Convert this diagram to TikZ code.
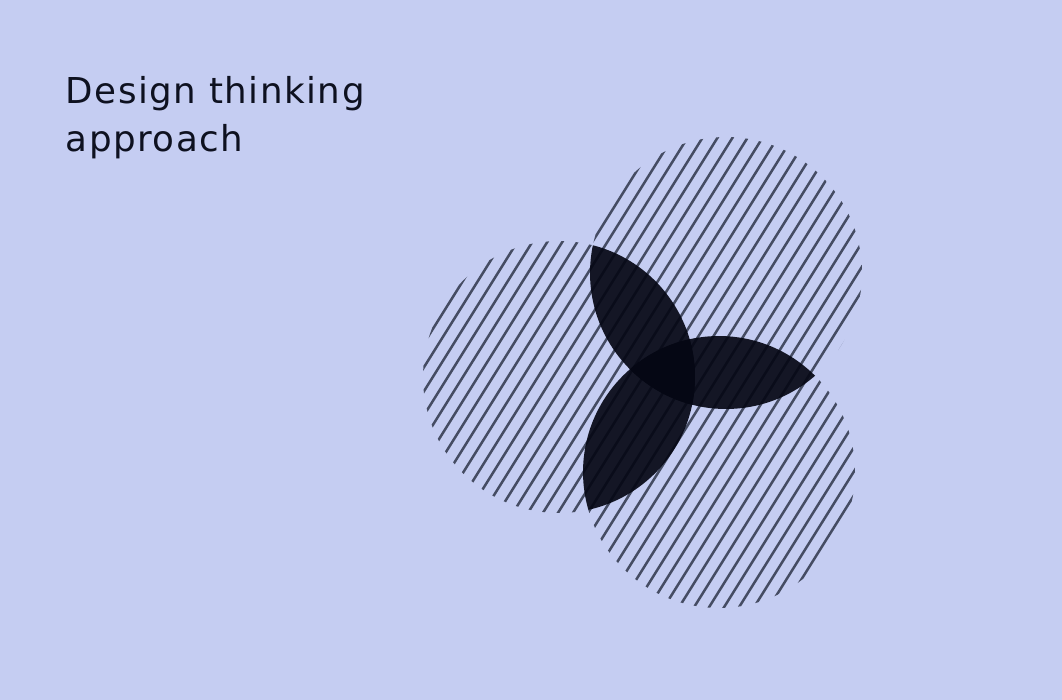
\documentclass[tikz,border=0pt]{standalone}
\usepackage{fontspec}
\setmainfont[LetterSpace=4.2]{DejaVu Sans}
\definecolor{lavender}{RGB}{197,205,242}
\definecolor{stripe}{RGB}{69,76,99}
\definecolor{petalink}{RGB}{5,7,20}
\definecolor{ink}{RGB}{14,17,32}
\begin{document}
\begin{tikzpicture}[x=0.02cm,y=-0.02cm,
	hatch/.style={draw=stripe,line width=1.42pt,line cap=round},
	petal/.style={fill=petalink,fill opacity=0.92},
	heading/.style={anchor=base west,inner sep=0,text=ink,font=\fontsize{20.3pt}{27.6pt}\selectfont}]
	\fill[lavender] (0,0) rectangle (1062,700);
	\node[heading] (title) at (65.5,103) {Design thinking};
	\node[heading] (title2) at (65.5,151.5) {approach};
	\coordinate (top) at (726,273);
	\coordinate (left) at (559,377);
	\coordinate (bottom) at (719,472);
	\def\rad{2.72cm}
	\begin{scope}
		\clip (top) circle[radius=\rad] (left) circle[radius=\rad] (bottom) circle[radius=\rad];
		\foreach \k in {-38,...,2}
			\draw[hatch] (800+\k*10.79,581.7+\k*6.74) ++(-212,339) -- ++(424,-678);
	\end{scope}
	\begin{scope}
		\clip (top) circle[radius=\rad];
		\fill[petal] (left) circle[radius=\rad];
	\end{scope}
	\begin{scope}
		\clip (top) circle[radius=\rad];
		\fill[petal] (bottom) circle[radius=\rad];
	\end{scope}
	\begin{scope}
		\clip (left) circle[radius=\rad];
		\fill[petal] (bottom) circle[radius=\rad];
	\end{scope}
\end{tikzpicture}
\end{document}
